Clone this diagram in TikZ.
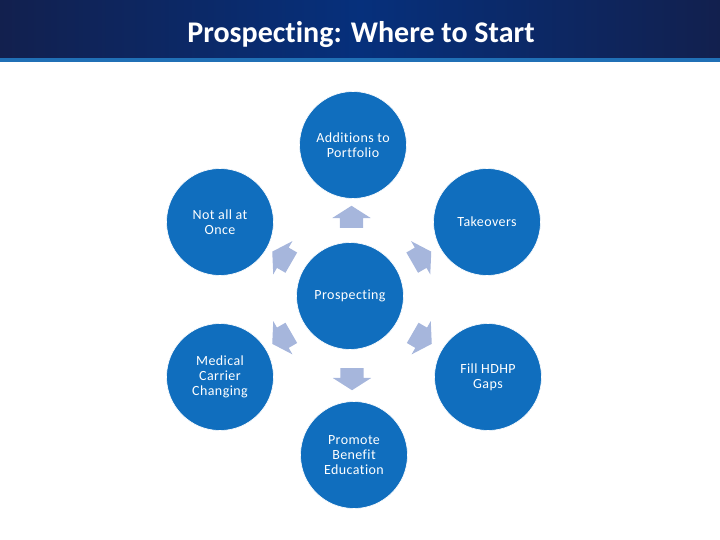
\documentclass[tikz,border=0pt]{standalone}
\usepackage{fontspec}
\setmainfont{Carlito}[Ligatures=NoCommon]
\usetikzlibrary{positioning,calc,shapes.arrows}
\definecolor{navyedge}{RGB}{18,32,78}
\definecolor{navymid}{RGB}{6,48,124}
\definecolor{stripe}{RGB}{32,112,182}
\definecolor{bubble}{RGB}{16,110,190}
\definecolor{arrowc}{RGB}{166,182,220}

\begin{document}
\begin{tikzpicture}[
    x=1pt, y=-1pt,
    font=\fontsize{14}{15.2}\selectfont\addfontfeature{LetterSpace=3},
    bubble/.style={
      circle, fill=bubble, draw=white, line width=0.6pt, text=white,
      align=center, minimum size=107pt, inner sep=1pt
    },
    arrw/.style={
      single arrow, fill=arrowc, draw=none, inner xsep=0pt, inner ysep=11.5pt,
      minimum height=22pt, minimum width=38pt,
      single arrow head extend=7.5pt, single arrow tip angle=115
    }
  ]
    \useasboundingbox (0,0) rectangle (720,540);
    % title bar
    \shade[left color=navyedge, right color=navyedge, middle color=navymid]
      (0,0) rectangle (720,58);
    \fill[stripe] (0,58) rectangle (720,62.5);
    \node[text=white, font=\fontsize{30}{32}\selectfont\bfseries] (title) at (361,35)
      {Prospecting: Where to Start};
    % circles
    \node[bubble] (hub) at (350,296) {Prospecting};
    \node[bubble] (top) at (353,145) {Additions to\\Portfolio};
    \node[bubble] (upleft) at (220,222) {Not all at\\Once};
    \node[bubble] (upright) at (487,222) {Takeovers};
    \node[bubble] (lowleft) at (220,377) {Medical\\Carrier\\Changing};
    \node[bubble] (lowright) at (488,377) {Fill HDHP\\Gaps};
    \node[bubble] (bottom) at (354,455) {Promote\\Benefit\\Education};
    % block arrows from hub outwards
    \node[arrw, rotate=90] (a1) at ($(hub)!0.5!(top)$) {};
    \node[arrw, rotate=30] (a2) at ($(hub)!0.5!(upright)$) {};
    \node[arrw, rotate=-30] (a3) at ($(hub)!0.5!(lowright)$) {};
    \node[arrw, rotate=-90] (a4) at ($(hub)!0.5!(bottom)$) {};
    \node[arrw, rotate=-150] (a5) at ($(hub)!0.5!(lowleft)$) {};
    \node[arrw, rotate=150] (a6) at ($(hub)!0.5!(upleft)$) {};
  \end{tikzpicture}
\end{document}
